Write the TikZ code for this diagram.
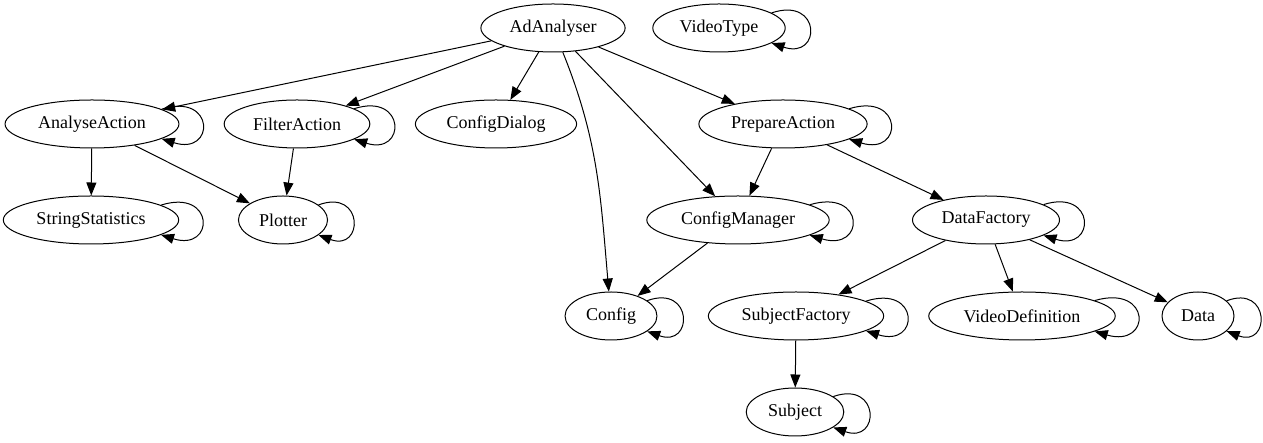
\documentclass[tikz,border=0pt]{standalone}
\usepackage{fontspec}
\setmainfont{Liberation Serif}
\usetikzlibrary{arrows.meta}
\usetikzlibrary{shapes.geometric}
\tikzset{
  cls/.style={draw, ellipse, line width=1pt, inner xsep=7.5pt, inner ysep=2pt,
    minimum width=72pt, minimum height=48pt, font=\fontsize{18}{22}\selectfont},
  dep/.style={-{Triangle[length=13pt,width=10pt]}, line width=1pt},
}

\begin{document}
\begin{tikzpicture}[x=1pt, y=1pt]
  \useasboundingbox (0,0) rectangle (1263,443);

  % classes, one rank per row
  \node [cls] (adanalyser) at (553,415) {AdAnalyser};
  \node [cls] (videotype) at (719,415) {VideoType};

  \node [cls] (analyseaction) at (92,319) {AnalyseAction};
  \node [cls] (filteraction) at (297,319) {FilterAction};
  \node [cls] (configdialog) at (496,319) {ConfigDialog};
  \node [cls] (prepareaction) at (783,319) {PrepareAction};

  \node [cls] (stringstatistics) at (91,223) {StringStatistics};
  \node [cls] (plotter) at (283,223) {Plotter};
  \node [cls] (configmanager) at (738,223) {ConfigManager};
  \node [cls] (datafactory) at (986,223) {DataFactory};

  \node [cls] (config) at (611,127) {Config};
  \node [cls] (subjectfactory) at (796,127) {SubjectFactory};
  \node [cls] (videodefinition) at (1022,127) {VideoDefinition};
  \node [cls] (data) at (1198,127) {Data};

  \node [cls] (subject) at (795,31) {Subject};

  % dependencies
  \draw [dep] (adanalyser) -- (analyseaction);
  \draw [dep] (adanalyser) -- (filteraction);
  \draw [dep] (adanalyser) -- (configdialog);
  \draw [dep] (adanalyser) to [out=-68, in=95] (config);
  \draw [dep] (adanalyser) -- (configmanager);
  \draw [dep] (adanalyser) -- (prepareaction);

  \draw [dep] (analyseaction) -- (stringstatistics);
  \draw [dep] (analyseaction) -- (plotter);
  \draw [dep] (filteraction) -- (plotter);

  \draw [dep] (prepareaction) -- (configmanager);
  \draw [dep] (prepareaction) -- (datafactory);
  \draw [dep] (configmanager) -- (config);

  \draw [dep] (datafactory) -- (subjectfactory);
  \draw [dep] (datafactory) -- (videodefinition);
  \draw [dep] (datafactory) -- (data);
  \draw [dep] (subjectfactory) -- (subject);

  % self references
  \foreach \n/\a in {videotype/16, analyseaction/12, filteraction/15,
      prepareaction/13, stringstatistics/12, plotter/23, configmanager/12,
      datafactory/15, config/23, subjectfactory/12, videodefinition/12,
      data/28, subject/22}
    \draw [dep] (\n.\a) .. controls ([shift={(36pt,32pt)}]\n.east)
      and ([shift={(36pt,-32pt)}]\n.east) .. (\n.-\a);
\end{tikzpicture}
\end{document}
